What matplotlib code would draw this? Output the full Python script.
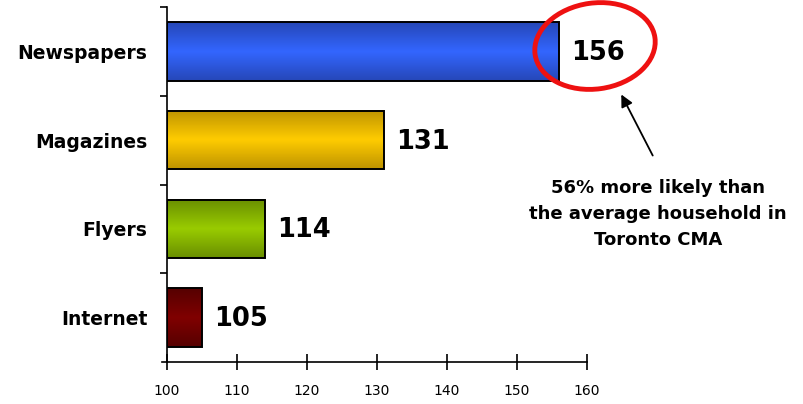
import numpy as np
import matplotlib.pyplot as plt
from matplotlib.colors import LinearSegmentedColormap
from matplotlib.patches import Ellipse

# index vs. average Toronto CMA household (=100)
media = ["Newspapers", "Magazines", "Flyers", "Internet"]
index_values = [156, 131, 114, 105]
x_ticks = [100, 110, 120, 130, 140, 150, 160]
# (edge shade, centre shade) for the gradient fills
bar_shades = [("#2647B8", "#3366FF"),
              ("#BF9400", "#FFCC00"),
              ("#6A8F00", "#99CC00"),
              ("#560000", "#800000")]
note = "56% more likely than\nthe average household in\nToronto CMA"

fig = plt.figure(figsize=(8.04, 4.04), dpi=100)
ax = fig.add_axes([167/804, 1 - 362/404, 420/804, 355/404])

ypos = np.arange(len(media))
base = x_ticks[0]
bars = ax.barh(ypos, np.array(index_values) - base, left=base, height=0.66,
               color="none", edgecolor="black", linewidth=1.4, zorder=3)

# vertical gradient inside each bar
grad = np.linspace(0, 1, 64).reshape(-1, 1)
for bar, (dark, light) in zip(bars, bar_shades):
    cmap = LinearSegmentedColormap.from_list("g", [dark, light, dark])
    x0, y0 = bar.get_x(), bar.get_y()
    ax.imshow(grad, cmap=cmap, aspect="auto", interpolation="bilinear",
              extent=[x0, x0 + bar.get_width(), y0 + bar.get_height(), y0],
              zorder=2)

for y, v in zip(ypos, index_values):
    ax.annotate(str(v), (v, y), xytext=(9, -1), textcoords="offset points",
                ha="left", va="center", fontsize=18.5, fontweight="bold")

ax.set_xlim(base, x_ticks[-1])
ax.set_ylim(len(media) - 0.5, -0.5)
ax.set_xticks(x_ticks)
ax.set_xticklabels([str(t) for t in x_ticks], fontsize=10)
ax.tick_params(axis="x", direction="inout", length=11, width=1.2, pad=10)

ax.set_yticks(np.arange(len(media)) - 0.5)
ax.set_yticklabels([])
ax.set_yticks(ypos, minor=True)
ax.set_yticklabels(media, minor=True, fontsize=13.5, fontweight="bold")
ax.tick_params(axis="y", which="major", direction="out", length=5, width=1.2)
ax.tick_params(axis="y", which="minor", length=0, pad=14)

for s in ["top", "right"]:
    ax.spines[s].set_visible(False)
ax.spines["left"].set_linewidth(1.2)
ax.spines["bottom"].set_linewidth(1.2)
ax.spines["bottom"].set_bounds(base - 0.7, x_ticks[-1])

# callout layer in pixel units
over = fig.add_axes([0, 0, 1, 1])
over.set_xlim(0, 804)
over.set_ylim(404, 0)
over.axis("off")
over.add_patch(Ellipse((595, 46), 121, 86, angle=-8, fill=False,
                       edgecolor="#EE1111", linewidth=3.5))
over.annotate("", xy=(620, 92), xytext=(654, 158),
              arrowprops=dict(arrowstyle="-|>", color="black", lw=1.3,
                              mutation_scale=18))
over.text(658, 214, note, ha="center", va="center", fontsize=13,
          fontweight="bold", linespacing=1.55)

fig.savefig("out.png", dpi=100)
